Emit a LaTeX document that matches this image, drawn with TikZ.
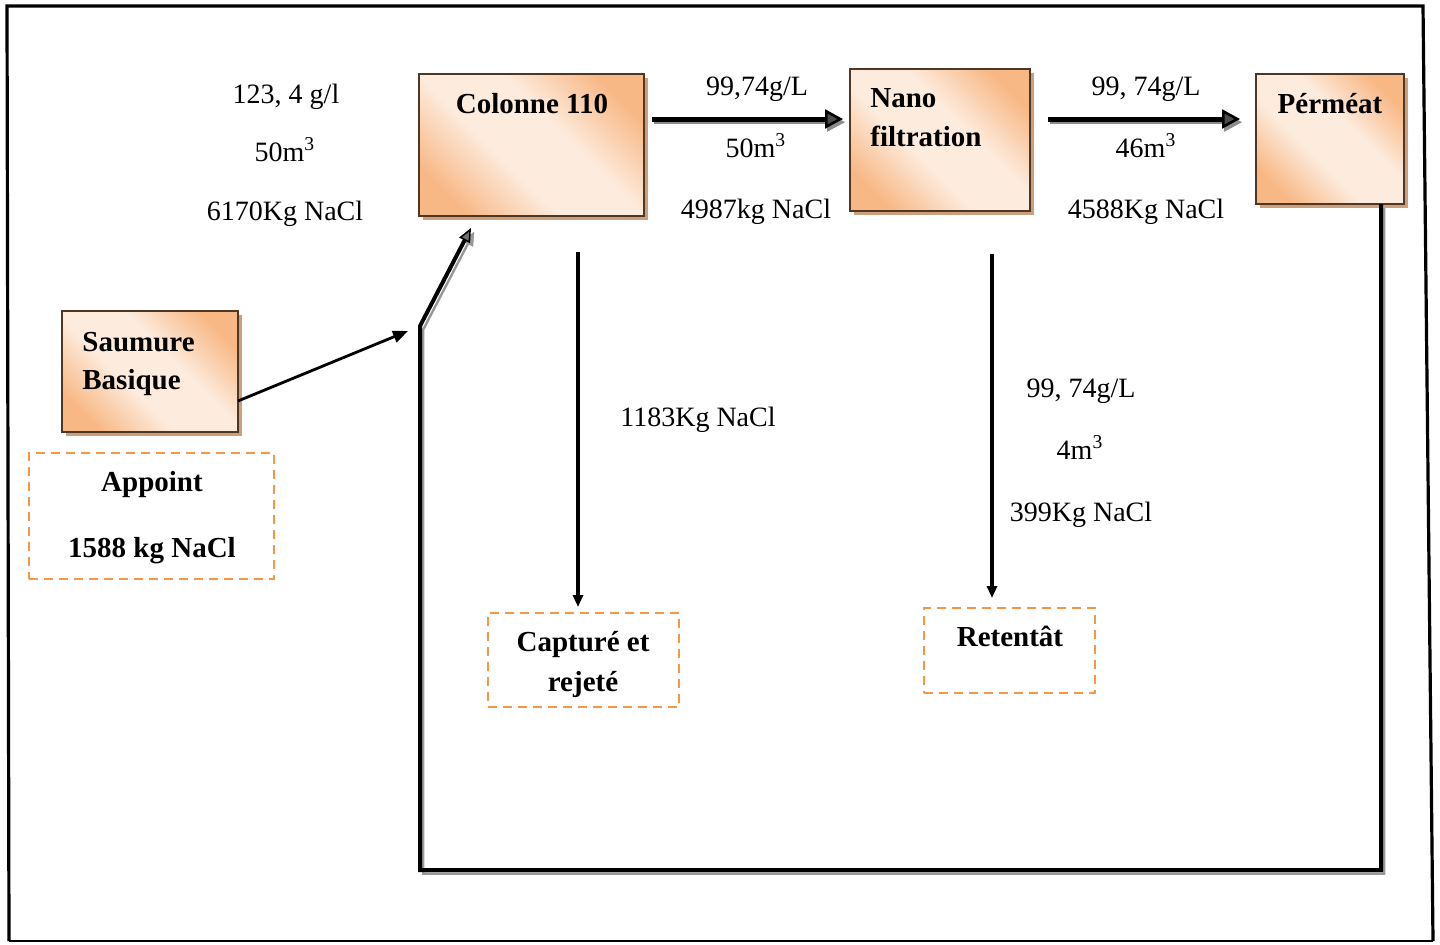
\documentclass[tikz,border=0pt]{standalone}
\usepackage{fontspec}
\setmainfont{Liberation Serif}
\usetikzlibrary{arrows.meta,shadows,calc}
\definecolor{boxdark}{RGB}{248,184,134}
\definecolor{boxlight}{RGB}{253,236,222}
\definecolor{dashor}{RGB}{247,150,70}
\definecolor{shtan}{RGB}{205,160,125}
\definecolor{boxedge}{RGB}{80,55,35}
\pgfdeclareverticalshading{boxsh}{100bp}{color(0bp)=(boxdark); color(24bp)=(boxdark); color(42bp)=(boxlight); color(58bp)=(boxlight); color(76bp)=(boxdark); color(100bp)=(boxdark)}
\begin{document}
\begin{tikzpicture}[x=0.5pt,y=-0.5pt,
  procbox/.style={draw=boxedge, line width=0.6pt, inner sep=0pt, outer sep=0pt,
     shading=boxsh, shading angle=-45,
     drop shadow={shadow xshift=2pt, shadow yshift=-2pt, fill=shtan, opacity=1}},
  dashbox/.style={draw=dashor, line width=1pt, dash pattern=on 4.5pt off 3pt, inner sep=0pt, outer sep=0pt},
  lbl/.style={font=\fontsize{14}{17}\selectfont, anchor=base, inner sep=0pt},
  blbl/.style={font=\fontsize{14.5}{17}\selectfont\bfseries, anchor=base, inner sep=0pt},
  thinarrow/.style={line width=1.6pt, -{Triangle[length=6pt,width=5pt]}},
  slantarrow/.style={line width=1.4pt, -{Triangle[length=7.5pt,width=6pt]}},
  flowarrow/.style={line width=2.5pt, -{Triangle[length=9pt,width=9.5pt,line width=1.3pt,fill=black!70]}},
  flowshadow/.style={draw=black!45, line width=2pt, -{Triangle[length=9pt,width=9.5pt,line width=0.5pt,fill=black!45]}},
  loopline/.style={line width=2pt, -{Triangle[length=7pt,width=6pt,line width=0.8pt,fill=black!55]}},
  loopshadow/.style={draw=black!40, line width=1.2pt, -{Triangle[length=7pt,width=6pt,line width=0.4pt,fill=black!40]}},
  frameline/.style={line width=1.6pt}
]
\useasboundingbox (0,0) rectangle (1440,944);
% outer frame
\coordinate (f1) at (7,6);
\coordinate (f2) at (1423,6);
\coordinate (f3) at (1433,941);
\coordinate (f4) at (9,941);
\draw[frameline] (f4) -- (f1) -- (f2) -- (f3);
\draw[line width=1pt] (f3) -- (f4);

% process boxes
\node[procbox, minimum width=112.5pt, minimum height=71pt] (col) at (531.5,145) {};
\node[procbox, minimum width=90pt, minimum height=71pt] (nano) at (940,140) {};
\node[procbox, minimum width=74pt, minimum height=65pt] (perm) at (1330,139) {};
\node[procbox, minimum width=88pt, minimum height=60.5pt] (sau) at (150,371.5) {};

\node[blbl] (colt) at (532,113) {Colonne 110};
\node[blbl, anchor=base west] (nanot1) at (870,107) {Nano};
\node[blbl, anchor=base west] (nanot2) at (870,146) {filtration};
\node[blbl] (permt) at (1330,113) {Pérméat};
\node[blbl, anchor=base west] (saut1) at (82,351) {Saumure};
\node[blbl, anchor=base west] (saut2) at (82,389) {Basique};

% dashed boxes
\node[dashbox, minimum width=122.5pt, minimum height=63pt] (app) at (151.5,516) {};
\node[dashbox, minimum width=95.5pt, minimum height=47pt] (cap) at (583.5,660) {};
\node[dashbox, minimum width=85.5pt, minimum height=42.5pt] (ret) at (1009.5,650.5) {};

\node[blbl] (appt1) at (152,491) {Appoint};
\node[blbl] (appt2) at (152,557) {1588 kg NaCl};
\node[blbl] (capt1) at (583,651) {Capturé et};
\node[blbl] (capt2) at (583,691) {rejeté};
\node[blbl] (rett) at (1010,646) {Retentât};

% labels
\node[lbl] (l1) at (286,103) {123, 4 g/l};
\node[lbl] (l2) at (285,161) {50m\textsuperscript{3}};
\node[lbl] (l3) at (285,220) {6170Kg NaCl};
\node[lbl] (l4) at (757,95) {99,74g/L};
\node[lbl] (l5) at (756,157) {50m\textsuperscript{3}};
\node[lbl] (l6) at (756,218) {4987kg NaCl};
\node[lbl] (l7) at (1146,95) {99, 74g/L};
\node[lbl] (l8) at (1146,157) {46m\textsuperscript{3}};
\node[lbl] (l9) at (1146,218) {4588Kg NaCl};
\node[lbl] (l10) at (698,426) {1183Kg NaCl};
\node[lbl] (l11) at (1081,397) {99, 74g/L};
\node[lbl] (l12) at (1080,459) {4m\textsuperscript{3}};
\node[lbl] (l13) at (1081,521) {399Kg NaCl};

% flow arrows (with shadow)
\draw[flowshadow, transform canvas={shift={(1pt,-1.6pt)}}] ([shift={(8,45)}]col.north east) -- ([shift={(-7,50)}]nano.north west);
\draw[flowarrow] ([shift={(8,45)}]col.north east) -- ([shift={(-7,50)}]nano.north west);
\draw[flowshadow, transform canvas={shift={(1pt,-1.6pt)}}] ([shift={(18,50)}]nano.north east) -- ([shift={(-16,45)}]perm.north west);
\draw[flowarrow] ([shift={(18,50)}]nano.north east) -- ([shift={(-16,45)}]perm.north west);

% Saumure arrow
\coordinate (sj) at (408,331);
\draw[slantarrow] ([shift={(0,29.5)}]sau.east) -- (sj);

% recycle loop
\coordinate (bl) at (420,870);
\coordinate (ml) at (420,326);
\draw[loopshadow, transform canvas={shift={(1.6pt,-1.8pt)}}] ([shift={(-23,0)}]perm.south east) |- (bl) -- (ml) -- ([shift={(-60.5,12)}]col.south);
\draw[loopline] ([shift={(-23,0)}]perm.south east) |- (bl) -- (ml) -- ([shift={(-60.5,12)}]col.south);

% outlet arrows
\draw[thinarrow] ([shift={(46.5,36)}]col.south) -- ([shift={(-5.5,-6)}]cap.north);
\draw[thinarrow] ([shift={(52,43)}]nano.south) -- ([shift={(-17.5,-10)}]ret.north);
\end{tikzpicture}
\end{document}
